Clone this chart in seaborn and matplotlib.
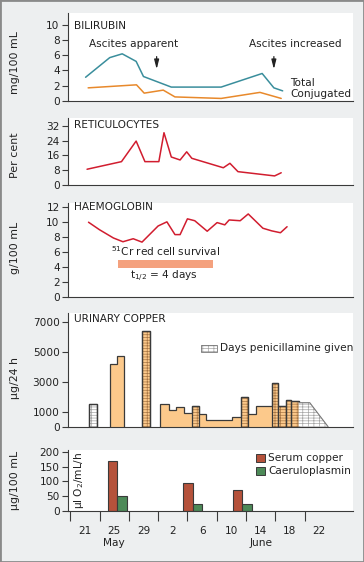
import matplotlib
matplotlib.use("Agg")
import matplotlib.pyplot as plt
import seaborn as sns
from matplotlib.patches import Rectangle

# ---------------- data (day: May d -> d, June d -> 31 + d) ----------------
bili_total_day = [21.1, 24.4, 26.1, 28.0, 29.0, 32.8, 39.6, 45.2, 46.8, 48.0]
bili_total = [3.1, 5.7, 6.2, 5.2, 3.2, 1.8, 1.8, 3.6, 1.7, 1.3]
bili_conj_day = [21.45, 28.05, 29.1, 31.7, 33.3, 39.6, 44.9, 47.8]
bili_conj = [1.7, 2.1, 1.0, 1.4, 0.5, 0.3, 1.1, 0.3]

retic_day = [21.3, 26.0, 28.0, 29.2, 31.1, 31.8, 32.8, 34.0, 34.9, 35.6,
             39.9, 40.8, 41.9, 46.9, 47.8]
retic = [8.5, 12.6, 23.7, 12.6, 12.6, 28.2, 15.1, 13.5, 17.9, 14.4,
         9.3, 11.7, 7.2, 4.9, 6.6]

hb_day = [21.5, 23.0, 24.9, 26.2, 27.6, 28.8, 31.0, 32.2, 33.3, 34.0, 35.0,
          36.0, 37.7, 39.05, 40.1, 40.7, 42.2, 43.3, 45.3, 46.5, 47.7, 48.6]
hb = [10.0, 9.0, 7.9, 7.4, 7.8, 7.35, 9.5, 10.05, 8.35, 8.35, 10.45,
      10.2, 8.8, 9.95, 9.65, 10.3, 10.2, 11.1, 9.2, 8.85, 8.6, 9.4]
cr_survival_days = [25.5, 38.5]

# urinary copper, day segments
cu_start = [21.6, 24.5, 25.4, 28.8, 31.3, 32.5, 33.4, 34.6, 35.6, 36.6, 37.6,
            41.1, 42.3, 43.3, 44.4, 46.5, 47.4, 48.4, 49.2]
cu_end = [22.7, 25.4, 26.4, 29.9, 32.5, 33.4, 34.6, 35.6, 36.6, 37.6, 41.1,
          42.3, 43.3, 44.4, 46.5, 47.4, 48.4, 49.2, 50.2]
cu_value = [1500, 4150, 4700, 6400, 1500, 1100, 1300, 900, 1400, 850, 450,
            620, 2000, 850, 1400, 2900, 1400, 1800, 1700]
cu_kind = ["pen_only", "urine", "urine", "pen", "urine", "urine", "urine",
           "urine", "pen", "urine", "urine", "urine", "pen", "urine", "urine",
           "pen", "pen", "pen", "pen"]
pen_tail_day = [50.2, 51.7, 54.2]
pen_tail_val = [1600, 1600, 0]

serum_day = [24.2, 34.45, 41.25]
serum_cu = [170, 95, 72]
caer_day = [25.45, 35.7, 42.5]
caer = [50, 23, 25]

tick_days = [19, 23, 27, 31, 35, 39, 43, 47, 51]
label_days = [21, 25, 29, 33, 37, 41, 45, 49, 53]
label_text = ["21", "25", "29", "2", "6", "10", "14", "18", "22"]

# ---------------- style ----------------
sns.set_style("ticks")
plt.rcParams["font.family"] = ["DejaVu Sans"]
plt.rcParams["hatch.linewidth"] = 0.5
FS = 7.6
DARK = "#3a3a3a"
BG = "#edeff0"
TEAL = "#3a8e9c"
ORANGE_LINE = "#e8892b"
RED = "#d11d2f"
SALMON = "#f4a17e"
CU_ORANGE = "#fcc98b"
HATCH_BROWN = "#a87644"
HATCH_GRAY = "#a5a5a5"
SERUM_RED = "#b5523b"
CAER_GREEN = "#4d8a58"

fig = plt.figure(figsize=(3.64, 5.62), dpi=100, facecolor=BG)
fig.patches.append(Rectangle((0, 0), 1, 1, transform=fig.transFigure,
                             fill=False, edgecolor="#8a8a8a", lw=2.0))

L, W = 68 / 364, 285 / 364
XL = (18.7, 57.6)


def make_ax(top_px, bot_px):
    ax = fig.add_axes([L, (562 - bot_px) / 562, W, (bot_px - top_px) / 562])
    ax.set_facecolor("white")
    for s in ("top", "right"):
        ax.spines[s].set_visible(False)
    for s in ("left", "bottom"):
        ax.spines[s].set_color(DARK)
        ax.spines[s].set_linewidth(0.8)
    ax.tick_params(axis="y", direction="out", length=4.5, width=0.8,
                   color=DARK, labelsize=FS, pad=1.5, labelcolor="#222")
    ax.set_xlim(*XL)
    return ax


def panel_title(ax, text, yfrac):
    ax.text(0.021, yfrac, text, transform=ax.transAxes, ha="left",
            va="center", fontsize=FS, color="#222")


def ylab(ax, text, yfrac):
    ax.set_ylabel(text, fontsize=FS + 0.3, color="#222")
    ax.yaxis.set_label_coords(-0.168, yfrac)


# ---- Bilirubin
ax1 = make_ax(13, 100.7)
sns.lineplot(x=bili_total_day, y=bili_total, ax=ax1, color=TEAL, lw=1.1)
sns.lineplot(x=bili_conj_day, y=bili_conj, ax=ax1, color=ORANGE_LINE, lw=1.1)
ax1.set_ylim(0, 11.6)
ax1.set_yticks([0, 2, 4, 6, 8, 10])
ax1.set_xticks([])
panel_title(ax1, "BILIRUBIN", 0.852)
ylab(ax1, "mg/100 mL", 0.43)
ax1.text(27.6, 7.5, "Ascites apparent", ha="center", va="center", fontsize=FS, color="#222")
ax1.text(49.7, 7.5, "Ascites increased", ha="center", va="center", fontsize=FS, color="#222")
for xa in (30.8, 46.8):
    ax1.annotate("", xy=(xa, 3.8), xytext=(xa, 6.2),
                 arrowprops=dict(arrowstyle="-|>,head_length=0.55,head_width=0.14",
                                 color="#222", lw=0.9))
ax1.text(49.0, 2.4, "Total", ha="left", va="center", fontsize=FS, color="#222")
ax1.text(49.0, 0.85, "Conjugated", ha="left", va="center", fontsize=FS, color="#222")

# ---- Reticulocytes
ax2 = make_ax(117.7, 185)
sns.lineplot(x=retic_day, y=retic, ax=ax2, color=RED, lw=1.1)
ax2.set_ylim(0, 36.3)
ax2.set_yticks([0, 8, 16, 24, 32])
ax2.set_xticks([])
panel_title(ax2, "RETICULOCYTES", 0.89)
ylab(ax2, "Per cent", 0.446)

# ---- Haemoglobin
ax3 = make_ax(202.7, 297.3)
sns.lineplot(x=hb_day, y=hb, ax=ax3, color=RED, lw=1.1)
ax3.set_ylim(0, 12.6)
ax3.set_yticks([0, 2, 4, 6, 8, 10, 12])
ax3.set_xticks([])
panel_title(ax3, "HAEMOGLOBIN", 0.955)
ylab(ax3, "g/100 mL", 0.526)
ax3.fill_between(cr_survival_days, 3.95, 4.97, color=SALMON, lw=0)
ax3.text(32.0, 6.1, r"$\mathregular{^{51}}$Cr red cell survival", ha="center",
         va="center", fontsize=FS, color="#222")
ax3.text(31.8, 2.75, r"$\mathregular{t_{1/2}}$ = 4 days", ha="center",
         va="center", fontsize=FS, color="#222")

# ---- Urinary copper
ax4 = make_ax(312.7, 426.7)
ax4.set_ylim(0, 7600)
ax4.set_yticks([0, 1000, 3000, 5000, 7000])
ax4.set_xticks([])
panel_title(ax4, "URINARY COPPER", 0.942)
ylab(ax4, "\u00b5g/24 h", 0.427)

# group contiguous segments
groups = []
for s, e, v, k in zip(cu_start, cu_end, cu_value, cu_kind):
    if groups and abs(groups[-1][-1][1] - s) < 1e-6 and k != "pen_only" \
            and groups[-1][-1][3] != "pen_only":
        groups[-1].append((s, e, v, k))
    else:
        groups.append([(s, e, v, k)])

PEN_HATCH = "+++---"
for g in groups:
    edges = [g[0][0]] + [seg[1] for seg in g]
    vals = [seg[2] for seg in g]
    if g[0][3] != "pen_only":
        ax4.stairs(vals, edges, baseline=0, fill=True, color=CU_ORANGE, lw=0)
    for s, e, v, k in g:
        if k == "pen":
            ax4.bar(s, v, width=e - s, align="edge", color=CU_ORANGE,
                    edgecolor=HATCH_BROWN, hatch=PEN_HATCH, lw=0)
        elif k == "pen_only":
            ax4.bar(s, v, width=e - s, align="edge", color="white",
                    edgecolor=HATCH_GRAY, hatch=PEN_HATCH, lw=0)
    ax4.stairs(vals, edges, baseline=0, fill=False, color=DARK, lw=0.9)
    for s, e, v, k in g:
        if k in ("pen", "pen_only"):
            ax4.bar(s, v, width=e - s, align="edge", fill=False,
                    edgecolor=DARK, lw=0.9)

ax4.fill_between(pen_tail_day, 0, pen_tail_val, facecolor="white",
                 edgecolor=HATCH_GRAY, hatch=PEN_HATCH, lw=0)
ax4.plot(pen_tail_day, pen_tail_val, color="#777", lw=0.8)

# legend for penicillamine
ax4.add_patch(Rectangle((36.9, 5000), 2.1, 450, facecolor="white",
                        edgecolor=HATCH_GRAY, hatch=PEN_HATCH, lw=0))
ax4.add_patch(Rectangle((36.9, 5000), 2.1, 450, fill=False,
                        edgecolor="#777", lw=0.6))
ax4.text(39.4, 5225, "Days penicillamine given", ha="left", va="center",
         fontsize=FS, color="#222")

# ---- Serum copper / caeruloplasmin
ax5 = make_ax(450, 511)
ax5.bar(serum_day, serum_cu, width=1.25, align="edge", color=SERUM_RED,
        edgecolor=DARK, lw=0.8)
ax5.bar(caer_day, caer, width=1.25, align="edge", color=CAER_GREEN,
        edgecolor=DARK, lw=0.8)
ax5.set_ylim(0, 206)
ax5.set_yticks([0, 50, 100, 150, 200])
ax5.set_xticks(tick_days)
ax5.set_xticklabels([])
ax5.set_xticks(label_days, minor=True)
ax5.set_xticklabels(label_text, minor=True)
ax5.tick_params(axis="x", which="major", direction="out", length=7,
                width=0.8, color=DARK)
ax5.tick_params(axis="x", which="minor", length=0, pad=10.5,
                labelsize=FS, labelcolor="#222")
ylab(ax5, "\u00b5g/100 mL", 0.5)
ax5.text(0.039, 0.5, "\u00b5l O$_2$/mL/h",
         transform=ax5.transAxes, rotation=90, ha="center", va="center",
         fontsize=FS, color="#222")
ax5.text(25, -0.52, "May", transform=ax5.get_xaxis_transform(), ha="center",
         va="center", fontsize=FS, color="#222")
ax5.text(45, -0.52, "June", transform=ax5.get_xaxis_transform(), ha="center",
         va="center", fontsize=FS, color="#222")

for yb, col, lab in ((166, SERUM_RED, "Serum copper"),
                     (121, CAER_GREEN, "Caeruloplasmin")):
    ax5.add_patch(Rectangle((44.3, yb), 1.26, 26, facecolor=col,
                            edgecolor=DARK, lw=0.7))
    ax5.text(46.0, yb + 13, lab, ha="left", va="center", fontsize=FS,
             color="#222")

fig.savefig("out.png", dpi=100, facecolor=BG)
